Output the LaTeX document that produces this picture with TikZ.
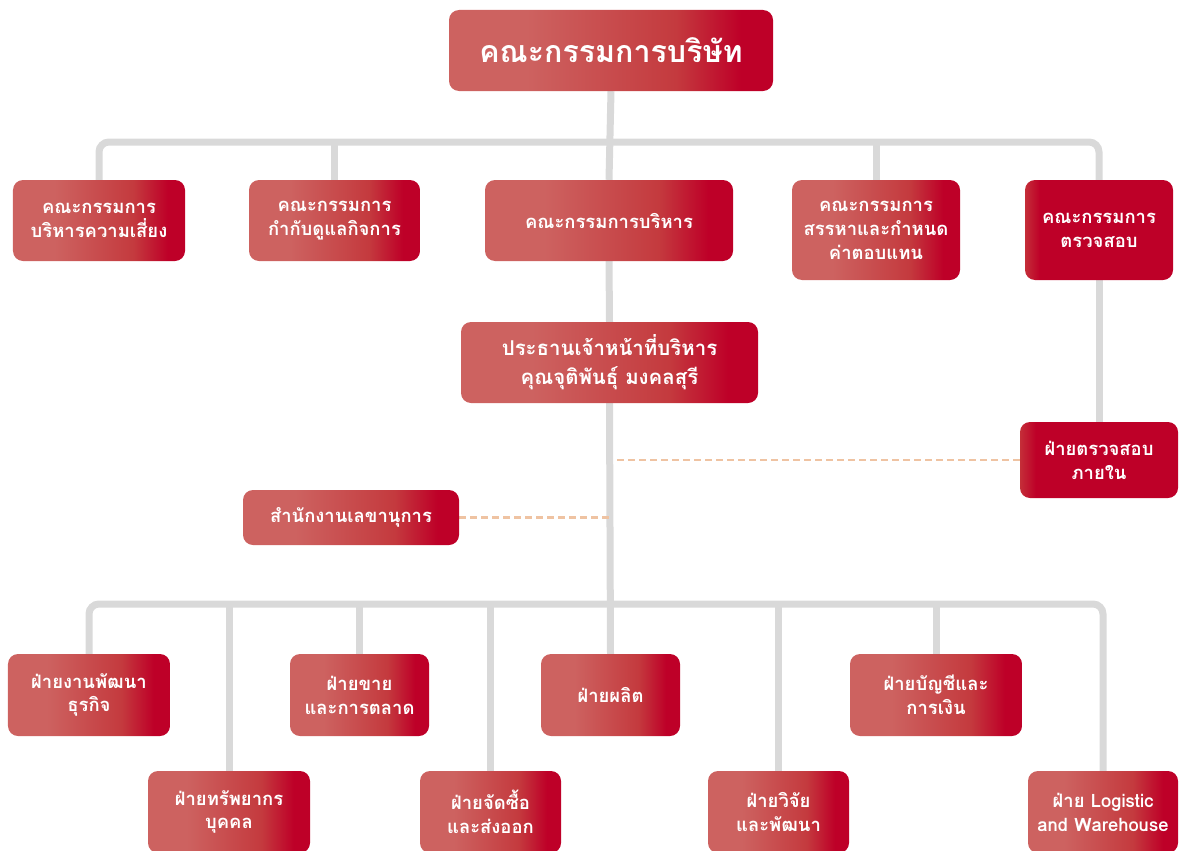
\documentclass[tikz,border=0pt]{standalone}
\usepackage{fontspec}
\newfontfamily\thaifont[Script=Thai]{Loma}
\usetikzlibrary{backgrounds}
\definecolor{cl}{HTML}{CD6260}
\definecolor{cm}{HTML}{C43A3E}
\definecolor{cd}{HTML}{BE0028}
\definecolor{ce}{HTML}{C42E38}
\definecolor{linegray}{HTML}{D9D9D9}
\definecolor{peach}{HTML}{EFC3A2}
\pgfdeclarehorizontalshading{redgrad}{100bp}{color(0bp)=(cl); color(25bp)=(cl); color(37bp)=(cl); color(60bp)=(cm); color(70bp)=(cd); color(100bp)=(cd)}
\pgfdeclarehorizontalshading{darkgrad}{100bp}{color(0bp)=(ce); color(25bp)=(ce); color(30bp)=(cd); color(100bp)=(cd)}
\tikzset{
  box/.style={rounded corners=10bp, shading=redgrad, text=white, align=center, inner sep=0pt,
    font=\thaifont\bfseries\fontsize{18.5}{24}\selectfont},
  darkbox/.style={box, shading=darkgrad},
  conn/.style={draw=linegray, line width=7bp},
  dashline/.style={draw=peach, line width=2.5bp, dash pattern=on 7bp off 4bp},
}
\begin{document}
\begin{tikzpicture}[x=1bp,y=-1bp]
\useasboundingbox (0,0) rectangle (1181,851);
\clip (0,0) rectangle (1181,851);
% top
\node[box, minimum width=324bp, minimum height=81bp, font=\thaifont\bfseries\fontsize{30.5}{34}\selectfont] (board) at (611,50.5) {คณะกรรมการบริษัท};
% committees
\node[box, minimum width=172bp, minimum height=81bp] (risk) at (99,220.5) {คณะกรรมการ\\บริหารความเสี่ยง};
\node[box, minimum width=171bp, minimum height=81bp] (gov) at (334.5,220.5) {คณะกรรมการ\\กำกับดูแลกิจการ};
\node[box, minimum width=248bp, minimum height=81bp] (exec) at (609,220.5) {คณะกรรมการบริหาร};
\node[box, minimum width=168bp, minimum height=100bp] (nom) at (876,230) {คณะกรรมการ\\สรรหาและกำหนด\\ค่าตอบแทน};
\node[darkbox, minimum width=148bp, minimum height=100bp] (auditc) at (1099,230) {คณะกรรมการ\\ตรวจสอบ};
% CEO
\node[box, minimum width=297bp, minimum height=81bp, font=\thaifont\bfseries\fontsize{20.5}{29}\selectfont] (ceo) at (609.5,362.5) {ประธานเจ้าหน้าที่บริหาร\\คุณจุติพันธุ์ มงคลสุรี};
\node[darkbox, minimum width=158bp, minimum height=76bp] (ia) at (1099,460) {ฝ่ายตรวจสอบ\\ภายใน};
\node[box, minimum width=216bp, minimum height=55bp] (sec) at (351,517.5) {สำนักงานเลขานุการ};
% departments upper
\node[box, minimum width=162bp, minimum height=82bp] (bd) at (89,695) {ฝ่ายงานพัฒนา\\ธุรกิจ};
\node[box, minimum width=139bp, minimum height=82bp] (sales) at (359.5,695) {ฝ่ายขาย\\และการตลาด};
\node[box, minimum width=139bp, minimum height=82bp] (prod) at (610.5,695) {ฝ่ายผลิต};
\node[box, minimum width=172bp, minimum height=82bp] (acct) at (936,695) {ฝ่ายบัญชีและ\\การเงิน};
% departments lower
\node[box, minimum width=162bp, minimum height=82bp] (hr) at (229,812) {ฝ่ายทรัพยากร\\บุคคล};
\node[box, minimum width=141bp, minimum height=82bp] (purch) at (490.5,812) {ฝ่ายจัดซื้อ\\และส่งออก};
\node[box, minimum width=141bp, minimum height=82bp] (rd) at (778.5,812) {ฝ่ายวิจัย\\และพัฒนา};
\node[box, minimum width=150bp, minimum height=82bp] (log) at (1103,812) {ฝ่าย Logistic\\and Warehouse};
\coordinate (bar1) at (611,142);
\coordinate (bar2) at (611,604);
\begin{pgfonlayer}{background}
\draw[conn] (board.south) -- (exec.north);
\draw[conn] (exec.south) -- (ceo.north);
\draw[conn] (ceo.south) -- (prod.north);
\draw[conn, rounded corners=10bp] (risk.north) |- (bar1) -| (auditc.north);
\draw[conn] (gov.north) -- (gov.north |- bar1);
\draw[conn] (nom.north) -- (nom.north |- bar1);
\draw[conn] (auditc.south) -- (ia.north);
\draw[conn, rounded corners=10bp] (bd.north) |- (bar2) -| (log.north);
\draw[conn] (hr.north) -- (hr.north |- bar2);
\draw[conn] (sales.north) -- (sales.north |- bar2);
\draw[conn] (purch.north) -- (purch.north |- bar2);
\draw[conn] (rd.north) -- (rd.north |- bar2);
\draw[conn] (acct.north) -- (acct.north |- bar2);
\draw[dashline, shorten >=6bp] (ia.west) -- (ia.west -| board.south);
\draw[dashline, shorten >=1bp] (sec.east) -- (sec.east -| board.south);
\end{pgfonlayer}
\end{tikzpicture}
\end{document}
